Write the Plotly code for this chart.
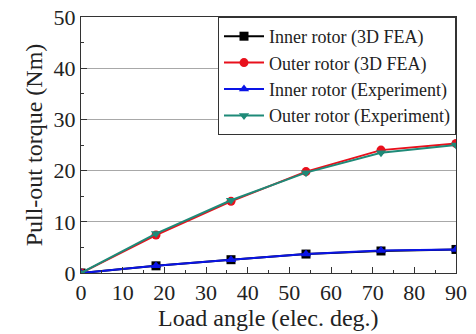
import plotly.graph_objects as go

# Load angle (electrical degrees)
load_angle = [0, 18, 36, 54, 72, 90]

# Pull-out torque (Nm)
inner_fea = [0, 1.4, 2.6, 3.7, 4.3, 4.6]
outer_fea = [0, 7.4, 14.0, 19.8, 24.0, 25.3]
inner_exp = [0, 1.4, 2.6, 3.7, 4.4, 4.6]
outer_exp = [0, 7.7, 14.2, 19.6, 23.5, 25.0]

series = [
    ("Inner rotor (3D FEA)", inner_fea, "#000000", "square"),
    ("Outer rotor (3D FEA)", outer_fea, "#e8101c", "circle"),
    ("Inner rotor (Experiment)", inner_exp, "#0a14e6", "triangle-up"),
    ("Outer rotor (Experiment)", outer_exp, "#1e8a78", "triangle-down"),
]

font_family = "Liberation Serif"

fig = go.Figure()
for name, vals, color, symbol in series:
    fig.add_trace(go.Scatter(
        x=load_angle, y=vals, name=name, mode="lines+markers",
        line=dict(color=color, width=2),
        marker=dict(symbol=symbol, size=9, color=color),
    ))

fig.update_layout(
    width=476, height=334,
    margin=dict(l=81, r=20, t=17, b=61),
    paper_bgcolor="white", plot_bgcolor="white",
    font=dict(family=font_family, size=22, color="#222222"),
    showlegend=True,
    legend=dict(
        x=1, y=1, xanchor="right", yanchor="top",
        bgcolor="white", bordercolor="#333333", borderwidth=1,
        font=dict(family=font_family, size=18, color="#222222"),
        tracegroupgap=0, itemwidth=40,
    ),
    xaxis=dict(
        range=[0, 90], tickvals=list(range(0, 91, 10)),
        showgrid=False, zeroline=False, automargin=False,
        showline=True, linecolor="#333333", linewidth=1, mirror=True,
        ticks="inside", ticklen=6, tickcolor="#333333",
        minor=dict(ticks="inside", ticklen=3, dtick=5, tickcolor="#333333"),
        tickfont=dict(family=font_family, size=22),
    ),
    yaxis=dict(
        range=[0, 50], tickvals=list(range(0, 51, 10)),
        showgrid=True, gridcolor="#a8a8a8", gridwidth=1, zeroline=False,
        automargin=False,
        showline=True, linecolor="#333333", linewidth=1, mirror=True,
        ticks="inside", ticklen=6, tickcolor="#333333",
        minor=dict(ticks="inside", ticklen=3, dtick=5, tickcolor="#333333"),
        title=dict(text="Pull-out torque (Nm)", standoff=4,
                   font=dict(family=font_family, size=24)),
        tickfont=dict(family=font_family, size=22),
    ),
    annotations=[dict(
        text="Load angle (elec. deg.)", xref="paper", yref="paper",
        x=0.5, y=-0.176, xanchor="center", yanchor="middle", showarrow=False,
        font=dict(family=font_family, size=24, color="#222222"),
    )],
)

fig.write_html("out.html")
